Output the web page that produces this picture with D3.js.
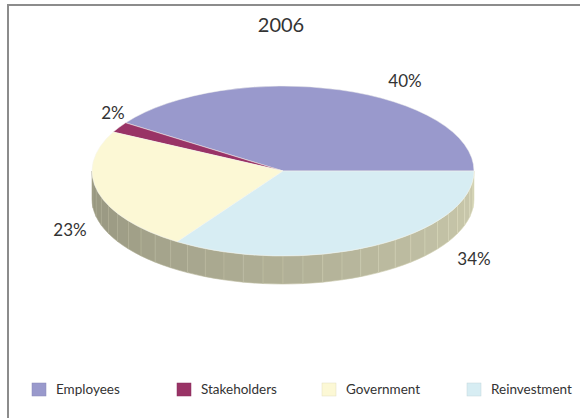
<!DOCTYPE html>
<html>
<head>
<meta charset="utf-8">
<script src="https://cdn.jsdelivr.net/npm/d3@7"></script>
<style>
    body { margin: 0; background: #fff; }
    svg { display: block; font-family: Lato, "Open Sans", sans-serif; }
    .lbl { fill: #333; }
</style>
</head>
<body>
<div id="container"></div>
<script>
const title = "2006";
const categories = ["Employees", "Stakeholders", "Government", "Reinvestment"];
const values = [40, 2, 23, 34];
const valueLabels = ["40%", "2%", "23%", "34%"];
const colors = ["#9999cc", "#993366", "#fcf8d5", "#d7edf3"];

const width = 580, height = 418;
// ellipse of the top face and thickness of the disc
const cx = 283, cy = 171, rx = 191, ry = 85, depth = 28;

const svg = d3.select("#container")
    .append("svg")
    .attr("width", width)
    .attr("height", height);

// frame
svg.append("rect")
    .attr("x", 8).attr("y", 5)
    .attr("width", 600).attr("height", 500)
    .attr("fill", "none")
    .attr("stroke", "#8c8c8c")
    .attr("stroke-width", 2);

svg.append("text")
    .attr("class", "lbl")
    .attr("x", 281).attr("y", 32)
    .attr("text-anchor", "middle")
    .attr("font-size", 20)
    .text(title);

// pie angles are read counter-clockwise starting at 3 o'clock
const pie = d3.pie().sort(null).startAngle(0).endAngle(2 * Math.PI);
const arcs = pie(values);

const px = t => cx + rx * Math.cos(t);
const py = t => cy - ry * Math.sin(t);

// side wall: only the front half (angles pi..2pi) shows
const shade = d3.scaleLinear()
    .domain([Math.PI, 2 * Math.PI])
    .range(["#95947e", "#cccbae"])
    .interpolate(d3.interpolateRgb);
const step = Math.PI / 30;
const facets = d3.range(Math.PI, 2 * Math.PI - 1e-6, step);

svg.append("g")
    .selectAll("path")
    .data(facets)
    .join("path")
    .attr("d", t => {
        const t2 = Math.min(t + step, 2 * Math.PI);
        return `M${px(t)},${py(t)} A${rx},${ry} 0 0 0 ${px(t2)},${py(t2)}`
            + ` L${px(t2)},${py(t2) + depth} A${rx},${ry} 0 0 1 ${px(t)},${py(t) + depth} Z`;
    })
    .attr("fill", t => shade(t + step / 2))
    .attr("stroke", t => d3.color(shade(t + step / 2)).brighter(0.25))
    .attr("stroke-width", 0.6);

// top face
svg.append("g")
    .selectAll("path")
    .data(arcs)
    .join("path")
    .attr("d", d => {
        const large = d.endAngle - d.startAngle > Math.PI ? 1 : 0;
        return `M${cx},${cy} L${px(d.startAngle)},${py(d.startAngle)}`
            + ` A${rx},${ry} 0 ${large} 0 ${px(d.endAngle)},${py(d.endAngle)} Z`;
    })
    .attr("fill", (d, i) => colors[i])
    .attr("stroke", "#f4f4ee")
    .attr("stroke-width", 0.5);

// value labels (placed like the original's best-fit layout)
const labelPos = [[405, 87], [113, 119], [70, 236], [474, 265]];
svg.append("g")
    .selectAll("text")
    .data(valueLabels)
    .join("text")
    .attr("class", "lbl")
    .attr("x", (d, i) => labelPos[i][0])
    .attr("y", (d, i) => labelPos[i][1])
    .attr("text-anchor", "middle")
    .attr("font-size", 17)
    .text(d => d);

// legend
const legendX = d3.scalePoint().domain(categories).range([32, 467]);
const legend = svg.append("g")
    .selectAll("g")
    .data(categories)
    .join("g")
    .attr("transform", d => `translate(${legendX(d)},383)`);

legend.append("rect")
    .attr("width", 14).attr("height", 13)
    .attr("fill", (d, i) => colors[i])
    .attr("stroke", (d, i) => d3.color(colors[i]).darker(0.3))
    .attr("stroke-width", 0.5);

legend.append("text")
    .attr("class", "lbl")
    .attr("x", 24).attr("y", 11)
    .attr("font-size", 13.5)
    .text(d => d);
</script>
</body>
</html>
